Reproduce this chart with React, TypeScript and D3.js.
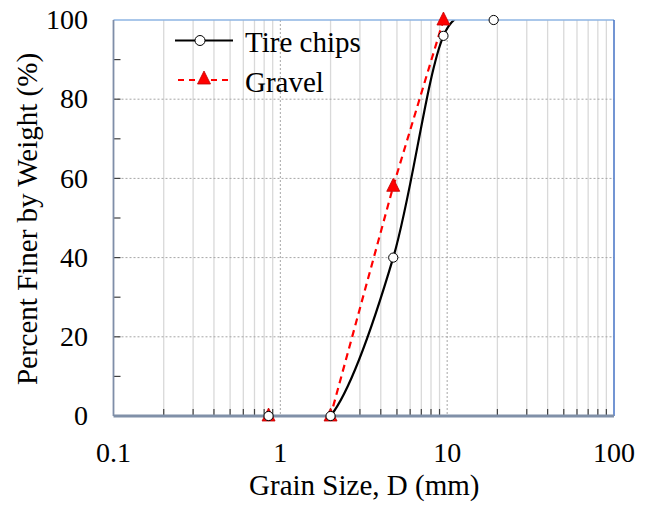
import React from "react";
import * as d3 from "d3";

const tireSize = [0.85, 2, 4.75, 9.5, 19];
const tirePct = [0, 0, 40, 96, 100];
const gravelSize = [0.85, 2, 4.75, 9.5];
const gravelPct = [0, 0, 58, 100];
const xTickValues = [0.1, 1, 10, 100];
const xTickLabels = ["0.1", "1", "10", "100"];
const yTickValues = [0, 20, 40, 60, 80, 100];
const seriesNames = ["Tire chips", "Gravel"];

const W = 651, H = 506;
const M = { left: 113.5, right: 614, top: 20, bottom: 416 };
const FONT = '"Liberation Serif", "Times New Roman", Tinos, "DejaVu Serif", serif';

export default function App() {
  const x = d3.scaleLog().domain([0.1, 100]).range([M.left, M.right]);
  const y = d3.scaleLinear().domain([0, 100]).range([M.bottom, M.top]);

  const minorX: number[] = [];
  for (let e = -1; e < 2; e++) {
    for (let k = 2; k <= 9; k++) minorX.push(k * Math.pow(10, e));
  }
  const yMinor = d3.range(10, 100, 10);

  const tire = tireSize.map((s, i) => [x(s), y(tirePct[i])] as [number, number]);
  const gravel = gravelSize.map((s, i) => [x(s), y(gravelPct[i])] as [number, number]);

  const smooth = d3.line().curve(d3.curveCardinal.tension(0));
  const straight = d3.line();

  const tri = (cx: number, cy: number) =>
    `M${cx},${cy - 8} L${cx + 6.5},${cy + 5} L${cx - 6.5},${cy + 5} Z`;

  const txt = { fontFamily: FONT, fill: "#000" } as React.CSSProperties;

  return (
    <svg width={W} height={H} style={{ position: "absolute", left: 0, top: 0, background: "#fff", fontFamily: FONT }}>
      <defs>
        <clipPath id="plot">
          <rect x={M.left} y={M.top} width={M.right - M.left} height={M.bottom - M.top} />
        </clipPath>
      </defs>
      <rect x={0} y={0} width={W} height={H} fill="#fff" />
      {minorX.map((v) => (
        <line key={"mx" + v} x1={x(v)} x2={x(v)} y1={M.top} y2={M.bottom} stroke="#d9d9d9" strokeWidth={1.3} />
      ))}
      {[1, 10].map((v) => (
        <line key={"Mx" + v} x1={x(v)} x2={x(v)} y1={M.top} y2={M.bottom} stroke="#a6a6a6" strokeWidth={1} strokeDasharray="2,2" />
      ))}
      {[20, 40, 60, 80].map((v) => (
        <line key={"hy" + v} x1={M.left} x2={M.right} y1={y(v)} y2={y(v)} stroke="#a6a6a6" strokeWidth={1} strokeDasharray="2,2" />
      ))}
      {minorX.map((v) => (
        <line key={"tx" + v} x1={x(v)} x2={x(v)} y1={M.bottom} y2={M.bottom - 7} stroke="#404040" strokeWidth={1.2} />
      ))}
      {yMinor.map((v) => (
        <line key={"ty" + v} x1={M.left} x2={M.left + 7} y1={y(v)} y2={y(v)} stroke="#404040" strokeWidth={1.2} />
      ))}

      <g clipPath="url(#plot)">
        <path d={straight(gravel) || ""} fill="none" stroke="#ff0000" strokeWidth={2.2} strokeDasharray="7,5" />
        <path d={smooth(tire) || ""} fill="none" stroke="#000" strokeWidth={2.2} />
      </g>

      <line x1={M.left} x2={M.right} y1={M.top} y2={M.top} stroke="#8eb4e3" strokeWidth={1.5} />
      <line x1={M.right} x2={M.right} y1={M.top} y2={M.bottom} stroke="#4472c4" strokeWidth={1.5} />
      <line x1={M.left} x2={M.left} y1={M.top} y2={M.bottom} stroke="#7f8ea8" strokeWidth={1.8} />
      <line x1={M.left} x2={M.right} y1={M.bottom} y2={M.bottom} stroke="#8090a8" strokeWidth={2.8} />

      {gravel.map(([cx, cy], i) => (
        <path key={"g" + i} d={tri(cx, cy)} fill="#ff0000" stroke="#c00000" strokeWidth={0.8} />
      ))}
      {tire.map(([cx, cy], i) => (
        <circle key={"c" + i} cx={cx} cy={cy} r={4.6} fill="#fff" stroke="#000" strokeWidth={1} />
      ))}

      {xTickValues.map((v, i) => (
        <text key={"xl" + v} x={x(v)} y={462} textAnchor="middle" style={{ ...txt, fontSize: 28 }}>
          {xTickLabels[i]}
        </text>
      ))}
      {yTickValues.map((v) => (
        <text key={"yl" + v} x={88} y={y(v)} dy="0.33em" textAnchor="end" style={{ ...txt, fontSize: 28 }}>
          {v}
        </text>
      ))}

      <text x={(M.left + M.right) / 2 + 0.5} y={495} textAnchor="middle" style={{ ...txt, fontSize: 29 }}>
        Grain Size, D (mm)
      </text>
      <text transform={`translate(37,219) rotate(-90)`} textAnchor="middle" style={{ ...txt, fontSize: 29 }}>
        Percent Finer by Weight (%)
      </text>

      <line x1={175} x2={233} y1={40.5} y2={40.5} stroke="#000" strokeWidth={2.2} />
      <circle cx={200} cy={40.5} r={5} fill="#fff" stroke="#000" strokeWidth={1} />
      <text x={245} y={52} style={{ ...txt, fontSize: 29 }}>{seriesNames[0]}</text>
      <line x1={178} x2={230} y1={80} y2={80} stroke="#ff0000" strokeWidth={2} strokeDasharray="6,5" />
      <path d={tri(204, 79)} fill="#ff0000" stroke="#c00000" strokeWidth={0.8} />
      <text x={245} y={92} style={{ ...txt, fontSize: 29 }}>{seriesNames[1]}</text>
    </svg>
  );
}
